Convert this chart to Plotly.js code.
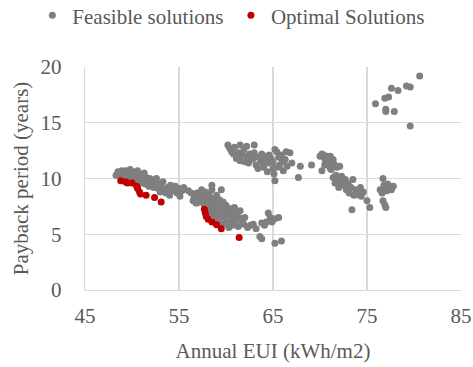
<!DOCTYPE html>
<html>
<head>
<meta charset="utf-8">
<script src="https://cdn.plot.ly/plotly-3.0.1.min.js"></script>
<style>html,body{margin:0;padding:0;background:#fff;}#chart{width:473px;height:367px;}</style>
</head>
<body>
<div id="chart"></div>
<script>
// Feasible solutions: Annual EUI (kWh/m2) and payback period (years)
const feasibleEUI = [
  48.3,48.5,48.7,48.9,49.0,49.2,49.3,49.5,49.6,49.8,49.9,50.1,50.2,50.3,50.5,50.6,50.8,50.9,51.0,51.1,
  51.3,51.4,51.5,51.6,51.8,51.9,52.0,52.1,52.3,52.4,52.5,52.6,52.8,52.9,53.0,53.1,53.3,53.5,53.6,53.8,
  54.0,54.1,54.3,54.6,54.8,55.0,55.1,55.3,55.5,56.0,56.5,56.8,
  56.3,56.6,56.9,56.9,57.1,57.2,57.4,57.4,57.6,57.7,57.8,57.9,58.0,58.1,58.2,58.3,58.4,58.5,58.5,58.5,
  58.6,58.7,58.8,58.9,59.0,59.0,59.1,59.2,59.3,59.4,59.5,59.5,59.6,59.7,59.8,59.9,60.0,60.0,60.2,60.3,
  60.4,60.5,60.6,60.7,60.8,60.9,61.0,61.1,61.3,61.4,61.5,61.7,61.9,62.0,62.3,62.6,62.9,63.2,63.6,63.8,
  63.8,64.1,64.3,64.5,64.7,64.9,65.2,65.6,65.2,65.9,
  60.2,60.4,60.6,60.8,60.9,61.1,61.3,61.5,61.5,61.7,61.9,62.0,62.2,62.2,62.4,62.5,62.7,62.9,63.0,63.0,
  63.2,63.4,63.5,63.7,63.8,64.0,64.1,64.2,64.4,64.5,64.6,64.8,65.0,65.0,65.1,65.2,65.2,65.4,65.5,65.6,
  65.7,65.9,66.0,66.1,66.3,66.4,66.5,66.8,67.0,67.7,67.9,
  69.1,70.0,70.2,70.4,70.5,70.6,70.7,70.9,71.0,71.1,71.2,71.4,71.5,70.2,70.5,71.1,71.8,72.1,71.4,71.6,
  71.7,71.9,72.0,72.2,72.3,72.5,72.7,72.8,73.0,73.1,73.3,73.5,73.6,73.8,73.9,74.1,74.3,74.4,74.6,75.0,
  75.3,73.4,76.7,76.4,76.6,76.8,76.9,77.1,77.2,77.4,77.8,77.6,76.7,76.9,77.0,
  75.9,76.9,77.3,77.0,77.0,77.9,77.6,78.3,79.2,79.6,80.6,79.6
];
const feasiblePayback = [
  10.3,10.6,10.2,10.7,10.4,10.1,10.7,10.5,10.0,10.8,10.3,10.6,10.1,9.8,10.4,10.7,10.0,9.6,10.3,9.9,
  10.5,9.5,10.1,9.7,9.3,10.0,9.6,9.9,9.2,9.6,9.4,10.0,9.1,9.5,8.8,9.3,9.7,9.0,8.7,9.2,
  8.5,9.4,8.9,9.3,8.7,9.1,8.4,8.9,9.2,8.9,8.0,7.8,
  8.7,8.2,8.7,7.8,8.4,7.9,9.0,8.5,8.1,7.6,8.8,8.3,7.4,7.9,8.6,7.1,7.7,9.4,9.0,8.2,
  6.8,7.4,8.0,6.5,8.5,7.1,7.7,6.2,8.1,6.8,9.0,7.4,5.9,7.9,6.5,7.1,6.0,7.6,6.7,5.6,
  7.3,6.3,7.0,5.8,6.6,7.4,6.1,6.9,5.7,6.5,7.1,6.2,5.9,6.5,5.6,5.8,5.9,5.5,4.8,4.6,
  6.0,5.8,6.1,6.9,6.5,6.1,6.4,6.5,4.2,4.4,
  13.0,12.7,12.4,12.2,12.8,11.8,12.3,13.0,11.6,12.1,12.6,11.5,12.9,12.0,11.4,12.2,11.7,11.8,13.0,12.3,
  11.2,10.9,11.9,11.5,12.2,11.0,12.0,11.6,10.6,11.4,12.1,11.8,10.9,11.5,10.4,9.8,12.6,12.4,11.0,11.9,
  11.2,12.1,11.5,10.7,11.7,12.4,11.1,12.3,11.4,10.1,11.1,
  11.2,12.0,12.2,12.1,11.8,11.4,12.0,11.6,11.1,12.0,10.8,11.7,11.3,10.7,11.2,10.9,11.0,11.1,10.1,9.6,
  10.3,9.9,9.2,9.7,10.2,9.4,9.9,9.0,9.5,8.7,9.2,9.9,8.5,9.0,8.55,8.9,9.2,8.4,8.8,8.0,
  7.4,7.2,10.0,9.0,8.7,9.4,9.2,8.9,9.5,9.15,9.3,9.0,8.0,7.65,7.4,
  16.7,17.2,17.3,16.2,16.0,16.0,18.1,17.9,18.3,18.2,19.2,14.7
];
// Optimal solutions
const optimalEUI = [48.8,49.3,49.5,50.0,50.5,50.6,50.8,50.9,51.5,52.4,53.1,57.7,57.8,57.9,58.1,58.5,59.0,59.5,61.4];
const optimalPayback = [9.8,9.7,9.6,9.6,9.3,9.1,8.8,8.6,8.5,8.3,7.9,7.25,6.9,6.6,6.35,6.1,5.85,5.5,4.7];
const xTicks = [45,55,65,75,85];
const yTicks = [0,5,10,15,20];

const font = {family: '"Liberation Serif", "Times New Roman", serif', size: 21, color: '#595959'};

const traces = [
  {type:'scatter', mode:'markers', name:'Feasible solutions', x: feasibleEUI, y: feasiblePayback,
   marker:{color:'#7f7f7f', size:7}, legend:'legend'},
  {type:'scatter', mode:'markers', name:'Optimal Solutions', x: optimalEUI, y: optimalPayback,
   marker:{color:'#c00000', size:7}, legend:'legend2'}
];

const legendBase = {orientation:'h', xanchor:'left', yanchor:'middle', y:1.23,
                    font: font, itemwidth:30, bgcolor:'rgba(0,0,0,0)', borderwidth:0, itemclick:false};

const layout = {
  width:473, height:367,
  margin:{l:85, r:12, t:66.5, b:76.5, autoexpand:false},
  paper_bgcolor:'#fff', plot_bgcolor:'#fff',
  font: font,
  showlegend:true,
  legend: Object.assign({}, legendBase, {x:-0.14}),
  legend2: Object.assign({}, legendBase, {x:0.388}),
  xaxis:{range:[45,85], tickvals:xTicks, ticktext:xTicks.map(String), showgrid:true, gridcolor:'#d9d9d9',
         gridwidth:1.3, zeroline:false, showline:true, linecolor:'#d9d9d9', linewidth:1.3, ticks:'',
         tickfont:font, ticklabelstandoff:6,
         title:{text:'Annual EUI (kWh/m2)', font:{family:font.family, size:21, color:'#595959'}, standoff:16}},
  yaxis:{range:[0,20], tickvals:yTicks, ticktext:yTicks.map(String), showgrid:true, gridcolor:'#d9d9d9',
         gridwidth:1.3, zeroline:false, showline:true, linecolor:'#d9d9d9', linewidth:1.3, ticks:'',
         tickfont:font, ticklabelstandoff:18,
         title:{text:'Payback period (years)', font:{family:font.family, size:21, color:'#595959'}, standoff:6}}
};

Plotly.newPlot('chart', traces, layout, {displayModeBar:false, staticPlot:true});
</script>
</body>
</html>
